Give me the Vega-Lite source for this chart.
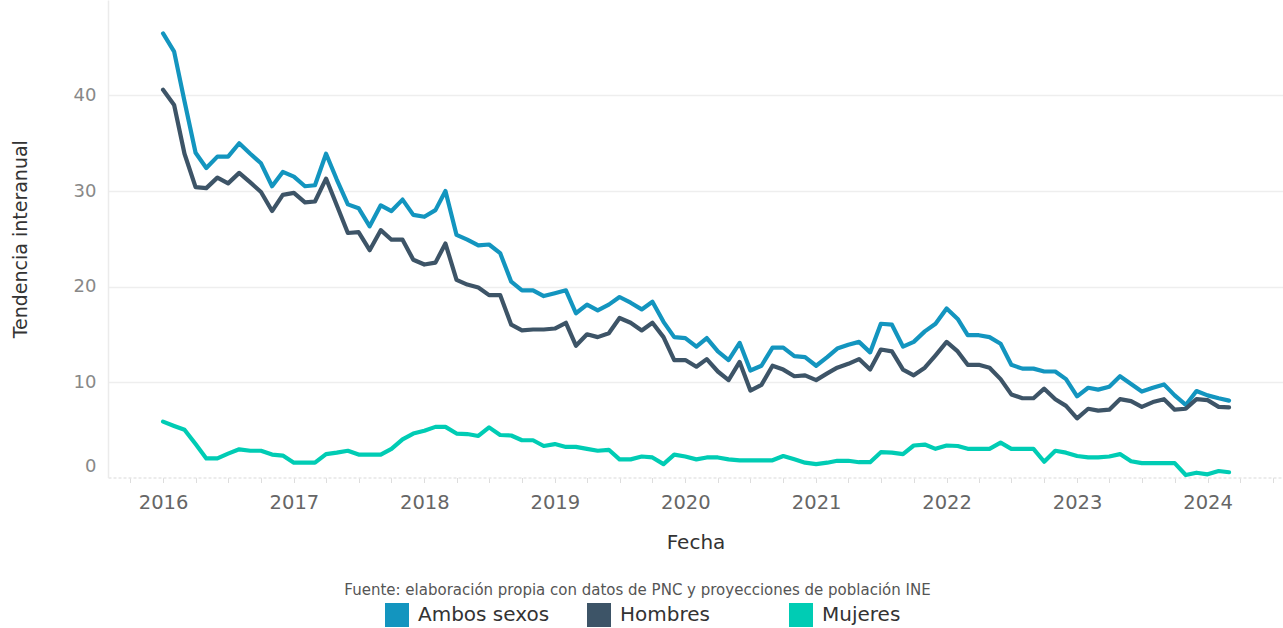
{
  "$schema": "https://vega.github.io/schema/vega-lite/v6.json",
  "width": 1175,
  "height": 477.5,
  "autosize": {"type": "none"},
  "padding": {"left": 108, "top": 0, "right": 0, "bottom": 150.5},
  "background": "white",
  "config": {"font": "DejaVu Sans", "view": {"stroke": null}},
  "title": {
    "text": "Fuente: elaboración propia con datos de PNC y proyecciones de población INE",
    "orient": "bottom",
    "anchor": "middle",
    "fontSize": 15,
    "fontWeight": "normal",
    "color": "#555555",
    "font": "DejaVu Sans",
    "offset": -44,
    "dx": -58
  },
  "data": {
    "values": [
      {"Fecha": "2016-01-01", "Ambos sexos": 46.5, "Hombres": 40.6, "Mujeres": 5.85},
      {"Fecha": "2016-02-01", "Ambos sexos": 44.6, "Hombres": 39.0, "Mujeres": 5.4},
      {"Fecha": "2016-03-01", "Ambos sexos": 39.4, "Hombres": 33.9, "Mujeres": 5.0},
      {"Fecha": "2016-04-01", "Ambos sexos": 34.0, "Hombres": 30.4, "Mujeres": 3.5},
      {"Fecha": "2016-05-01", "Ambos sexos": 32.4, "Hombres": 30.3, "Mujeres": 2.0},
      {"Fecha": "2016-06-01", "Ambos sexos": 33.6, "Hombres": 31.4, "Mujeres": 2.0},
      {"Fecha": "2016-07-01", "Ambos sexos": 33.6, "Hombres": 30.8, "Mujeres": 2.5},
      {"Fecha": "2016-08-01", "Ambos sexos": 35.0, "Hombres": 31.9, "Mujeres": 2.95},
      {"Fecha": "2016-09-01", "Ambos sexos": 33.9, "Hombres": 30.9, "Mujeres": 2.8},
      {"Fecha": "2016-10-01", "Ambos sexos": 32.9, "Hombres": 29.9, "Mujeres": 2.8},
      {"Fecha": "2016-11-01", "Ambos sexos": 30.5, "Hombres": 27.9, "Mujeres": 2.4},
      {"Fecha": "2016-12-01", "Ambos sexos": 32.0, "Hombres": 29.6, "Mujeres": 2.3},
      {"Fecha": "2017-01-01", "Ambos sexos": 31.5, "Hombres": 29.8, "Mujeres": 1.55},
      {"Fecha": "2017-02-01", "Ambos sexos": 30.5, "Hombres": 28.8, "Mujeres": 1.55},
      {"Fecha": "2017-03-01", "Ambos sexos": 30.6, "Hombres": 28.9, "Mujeres": 1.55},
      {"Fecha": "2017-04-01", "Ambos sexos": 33.9, "Hombres": 31.3, "Mujeres": 2.45},
      {"Fecha": "2017-05-01", "Ambos sexos": 31.2, "Hombres": 28.5, "Mujeres": 2.6},
      {"Fecha": "2017-06-01", "Ambos sexos": 28.6, "Hombres": 25.6, "Mujeres": 2.8},
      {"Fecha": "2017-07-01", "Ambos sexos": 28.2, "Hombres": 25.7, "Mujeres": 2.4},
      {"Fecha": "2017-08-01", "Ambos sexos": 26.3, "Hombres": 23.8, "Mujeres": 2.4},
      {"Fecha": "2017-09-01", "Ambos sexos": 28.5, "Hombres": 25.9, "Mujeres": 2.4},
      {"Fecha": "2017-10-01", "Ambos sexos": 27.9, "Hombres": 24.9, "Mujeres": 3.0},
      {"Fecha": "2017-11-01", "Ambos sexos": 29.1, "Hombres": 24.9, "Mujeres": 4.0},
      {"Fecha": "2017-12-01", "Ambos sexos": 27.5, "Hombres": 22.8, "Mujeres": 4.6},
      {"Fecha": "2018-01-01", "Ambos sexos": 27.3, "Hombres": 22.3, "Mujeres": 4.9},
      {"Fecha": "2018-02-01", "Ambos sexos": 28.0, "Hombres": 22.5, "Mujeres": 5.3},
      {"Fecha": "2018-03-01", "Ambos sexos": 30.0, "Hombres": 24.5, "Mujeres": 5.3},
      {"Fecha": "2018-04-01", "Ambos sexos": 25.4, "Hombres": 20.7, "Mujeres": 4.6},
      {"Fecha": "2018-05-01", "Ambos sexos": 24.9, "Hombres": 20.2, "Mujeres": 4.55},
      {"Fecha": "2018-06-01", "Ambos sexos": 24.3, "Hombres": 19.9, "Mujeres": 4.35},
      {"Fecha": "2018-07-01", "Ambos sexos": 24.4, "Hombres": 19.1, "Mujeres": 5.25},
      {"Fecha": "2018-08-01", "Ambos sexos": 23.5, "Hombres": 19.1, "Mujeres": 4.45},
      {"Fecha": "2018-09-01", "Ambos sexos": 20.5, "Hombres": 16.0, "Mujeres": 4.4},
      {"Fecha": "2018-10-01", "Ambos sexos": 19.6, "Hombres": 15.4, "Mujeres": 3.9},
      {"Fecha": "2018-11-01", "Ambos sexos": 19.6, "Hombres": 15.5, "Mujeres": 3.9},
      {"Fecha": "2018-12-01", "Ambos sexos": 19.0, "Hombres": 15.5, "Mujeres": 3.3},
      {"Fecha": "2019-01-01", "Ambos sexos": 19.3, "Hombres": 15.6, "Mujeres": 3.5},
      {"Fecha": "2019-02-01", "Ambos sexos": 19.6, "Hombres": 16.2, "Mujeres": 3.2},
      {"Fecha": "2019-03-01", "Ambos sexos": 17.2, "Hombres": 13.8, "Mujeres": 3.2},
      {"Fecha": "2019-04-01", "Ambos sexos": 18.1, "Hombres": 15.0, "Mujeres": 3.0},
      {"Fecha": "2019-05-01", "Ambos sexos": 17.5, "Hombres": 14.7, "Mujeres": 2.8},
      {"Fecha": "2019-06-01", "Ambos sexos": 18.1, "Hombres": 15.1, "Mujeres": 2.9},
      {"Fecha": "2019-07-01", "Ambos sexos": 18.9, "Hombres": 16.7, "Mujeres": 1.9},
      {"Fecha": "2019-08-01", "Ambos sexos": 18.3, "Hombres": 16.2, "Mujeres": 1.9},
      {"Fecha": "2019-09-01", "Ambos sexos": 17.6, "Hombres": 15.4, "Mujeres": 2.2},
      {"Fecha": "2019-10-01", "Ambos sexos": 18.4, "Hombres": 16.2, "Mujeres": 2.1},
      {"Fecha": "2019-11-01", "Ambos sexos": 16.3, "Hombres": 14.7, "Mujeres": 1.4},
      {"Fecha": "2019-12-01", "Ambos sexos": 14.7, "Hombres": 12.3, "Mujeres": 2.4},
      {"Fecha": "2020-01-01", "Ambos sexos": 14.6, "Hombres": 12.3, "Mujeres": 2.2},
      {"Fecha": "2020-02-01", "Ambos sexos": 13.7, "Hombres": 11.6, "Mujeres": 1.9},
      {"Fecha": "2020-03-01", "Ambos sexos": 14.6, "Hombres": 12.4, "Mujeres": 2.1},
      {"Fecha": "2020-04-01", "Ambos sexos": 13.2, "Hombres": 11.1, "Mujeres": 2.1},
      {"Fecha": "2020-05-01", "Ambos sexos": 12.3, "Hombres": 10.2, "Mujeres": 1.9},
      {"Fecha": "2020-06-01", "Ambos sexos": 14.1, "Hombres": 12.1, "Mujeres": 1.8},
      {"Fecha": "2020-07-01", "Ambos sexos": 11.2, "Hombres": 9.1, "Mujeres": 1.8},
      {"Fecha": "2020-08-01", "Ambos sexos": 11.7, "Hombres": 9.7, "Mujeres": 1.8},
      {"Fecha": "2020-09-01", "Ambos sexos": 13.6, "Hombres": 11.7, "Mujeres": 1.8},
      {"Fecha": "2020-10-01", "Ambos sexos": 13.6, "Hombres": 11.3, "Mujeres": 2.25},
      {"Fecha": "2020-11-01", "Ambos sexos": 12.7, "Hombres": 10.6, "Mujeres": 1.9},
      {"Fecha": "2020-12-01", "Ambos sexos": 12.6, "Hombres": 10.7, "Mujeres": 1.55},
      {"Fecha": "2021-01-01", "Ambos sexos": 11.7, "Hombres": 10.2, "Mujeres": 1.4},
      {"Fecha": "2021-02-01", "Ambos sexos": 12.6, "Hombres": 10.9, "Mujeres": 1.55},
      {"Fecha": "2021-03-01", "Ambos sexos": 13.5, "Hombres": 11.5, "Mujeres": 1.75},
      {"Fecha": "2021-04-01", "Ambos sexos": 13.9, "Hombres": 11.9, "Mujeres": 1.75},
      {"Fecha": "2021-05-01", "Ambos sexos": 14.2, "Hombres": 12.4, "Mujeres": 1.6},
      {"Fecha": "2021-06-01", "Ambos sexos": 13.1, "Hombres": 11.3, "Mujeres": 1.6},
      {"Fecha": "2021-07-01", "Ambos sexos": 16.1, "Hombres": 13.4, "Mujeres": 2.65},
      {"Fecha": "2021-08-01", "Ambos sexos": 16.0, "Hombres": 13.2, "Mujeres": 2.6},
      {"Fecha": "2021-09-01", "Ambos sexos": 13.7, "Hombres": 11.3, "Mujeres": 2.45},
      {"Fecha": "2021-10-01", "Ambos sexos": 14.2, "Hombres": 10.7, "Mujeres": 3.35},
      {"Fecha": "2021-11-01", "Ambos sexos": 15.3, "Hombres": 11.5, "Mujeres": 3.45},
      {"Fecha": "2021-12-01", "Ambos sexos": 16.1, "Hombres": 12.8, "Mujeres": 3.0},
      {"Fecha": "2022-01-01", "Ambos sexos": 17.7, "Hombres": 14.2, "Mujeres": 3.35},
      {"Fecha": "2022-02-01", "Ambos sexos": 16.6, "Hombres": 13.2, "Mujeres": 3.3},
      {"Fecha": "2022-03-01", "Ambos sexos": 14.9, "Hombres": 11.8, "Mujeres": 3.0},
      {"Fecha": "2022-04-01", "Ambos sexos": 14.9, "Hombres": 11.8, "Mujeres": 3.0},
      {"Fecha": "2022-05-01", "Ambos sexos": 14.7, "Hombres": 11.5, "Mujeres": 3.0},
      {"Fecha": "2022-06-01", "Ambos sexos": 14.0, "Hombres": 10.3, "Mujeres": 3.65},
      {"Fecha": "2022-07-01", "Ambos sexos": 11.8, "Hombres": 8.7, "Mujeres": 3.0},
      {"Fecha": "2022-08-01", "Ambos sexos": 11.4, "Hombres": 8.3, "Mujeres": 3.0},
      {"Fecha": "2022-09-01", "Ambos sexos": 11.4, "Hombres": 8.3, "Mujeres": 3.0},
      {"Fecha": "2022-10-01", "Ambos sexos": 11.1, "Hombres": 9.3, "Mujeres": 1.65},
      {"Fecha": "2022-11-01", "Ambos sexos": 11.1, "Hombres": 8.2, "Mujeres": 2.8},
      {"Fecha": "2022-12-01", "Ambos sexos": 10.3, "Hombres": 7.5, "Mujeres": 2.6},
      {"Fecha": "2023-01-01", "Ambos sexos": 8.5, "Hombres": 6.2, "Mujeres": 2.25},
      {"Fecha": "2023-02-01", "Ambos sexos": 9.4, "Hombres": 7.2, "Mujeres": 2.1},
      {"Fecha": "2023-03-01", "Ambos sexos": 9.2, "Hombres": 7.0, "Mujeres": 2.1},
      {"Fecha": "2023-04-01", "Ambos sexos": 9.5, "Hombres": 7.1, "Mujeres": 2.2},
      {"Fecha": "2023-05-01", "Ambos sexos": 10.6, "Hombres": 8.2, "Mujeres": 2.45},
      {"Fecha": "2023-06-01", "Ambos sexos": 9.8, "Hombres": 8.0, "Mujeres": 1.7},
      {"Fecha": "2023-07-01", "Ambos sexos": 9.0, "Hombres": 7.4, "Mujeres": 1.5},
      {"Fecha": "2023-08-01", "Ambos sexos": 9.4, "Hombres": 7.9, "Mujeres": 1.5},
      {"Fecha": "2023-09-01", "Ambos sexos": 9.75, "Hombres": 8.2, "Mujeres": 1.5},
      {"Fecha": "2023-10-01", "Ambos sexos": 8.6, "Hombres": 7.1, "Mujeres": 1.5},
      {"Fecha": "2023-11-01", "Ambos sexos": 7.6, "Hombres": 7.2, "Mujeres": 0.26},
      {"Fecha": "2023-12-01", "Ambos sexos": 9.05, "Hombres": 8.2, "Mujeres": 0.5},
      {"Fecha": "2024-01-01", "Ambos sexos": 8.6, "Hombres": 8.1, "Mujeres": 0.33},
      {"Fecha": "2024-02-01", "Ambos sexos": 8.3, "Hombres": 7.4, "Mujeres": 0.68},
      {"Fecha": "2024-03-01", "Ambos sexos": 8.05, "Hombres": 7.35, "Mujeres": 0.55}
    ]
  },
  "transform": [{"fold": ["Ambos sexos", "Hombres", "Mujeres"], "as": ["serie", "valor"]}],
  "mark": {"type": "line", "strokeWidth": 4.2, "strokeJoin": "round", "strokeCap": "round"},
  "encoding": {
    "x": {
      "field": "Fecha",
      "type": "temporal",
      "scale": {
        "type": "utc",
        "domain": [
          {"year": 2015, "month": 7, "date": 31, "utc": true},
          {"year": 2024, "month": 7, "date": 30, "utc": true}
        ]
      },
      "axis": {
        "values": [
          {"year": 2015, "month": 10, "date": 1, "utc": true},
          {"year": 2016, "month": 1, "date": 1, "utc": true},
          {"year": 2016, "month": 4, "date": 1, "utc": true},
          {"year": 2016, "month": 7, "date": 1, "utc": true},
          {"year": 2016, "month": 10, "date": 1, "utc": true},
          {"year": 2017, "month": 1, "date": 1, "utc": true},
          {"year": 2017, "month": 4, "date": 1, "utc": true},
          {"year": 2017, "month": 7, "date": 1, "utc": true},
          {"year": 2017, "month": 10, "date": 1, "utc": true},
          {"year": 2018, "month": 1, "date": 1, "utc": true},
          {"year": 2018, "month": 4, "date": 1, "utc": true},
          {"year": 2018, "month": 7, "date": 1, "utc": true},
          {"year": 2018, "month": 10, "date": 1, "utc": true},
          {"year": 2019, "month": 1, "date": 1, "utc": true},
          {"year": 2019, "month": 4, "date": 1, "utc": true},
          {"year": 2019, "month": 7, "date": 1, "utc": true},
          {"year": 2019, "month": 10, "date": 1, "utc": true},
          {"year": 2020, "month": 1, "date": 1, "utc": true},
          {"year": 2020, "month": 4, "date": 1, "utc": true},
          {"year": 2020, "month": 7, "date": 1, "utc": true},
          {"year": 2020, "month": 10, "date": 1, "utc": true},
          {"year": 2021, "month": 1, "date": 1, "utc": true},
          {"year": 2021, "month": 4, "date": 1, "utc": true},
          {"year": 2021, "month": 7, "date": 1, "utc": true},
          {"year": 2021, "month": 10, "date": 1, "utc": true},
          {"year": 2022, "month": 1, "date": 1, "utc": true},
          {"year": 2022, "month": 4, "date": 1, "utc": true},
          {"year": 2022, "month": 7, "date": 1, "utc": true},
          {"year": 2022, "month": 10, "date": 1, "utc": true},
          {"year": 2023, "month": 1, "date": 1, "utc": true},
          {"year": 2023, "month": 4, "date": 1, "utc": true},
          {"year": 2023, "month": 7, "date": 1, "utc": true},
          {"year": 2023, "month": 10, "date": 1, "utc": true},
          {"year": 2024, "month": 1, "date": 1, "utc": true},
          {"year": 2024, "month": 4, "date": 1, "utc": true},
          {"year": 2024, "month": 7, "date": 1, "utc": true}
        ],
        "labelExpr": "utcmonth(datum.value) == 0 ? utcFormat(datum.value, '%Y') : ''",
        "labelOverlap": false,
        "labelFlush": false,
        "title": "Fecha",
        "titleFontSize": 20,
        "titleColor": "#333333",
        "titleFontWeight": "normal",
        "titlePadding": 20,
        "labelFontSize": 19.5,
        "labelColor": "#666666",
        "labelPadding": 11,
        "tickColor": "#dddddd",
        "tickSize": 5,
        "tickWidth": 1,
        "domainColor": "#e6e6e6",
        "domainDash": [3, 2],
        "domainWidth": 1.5,
        "grid": false
      }
    },
    "y": {
      "field": "valor",
      "type": "quantitative",
      "scale": {"domain": [0, 50], "nice": false, "zero": false},
      "axis": {
        "values": [0, 10, 20, 30, 40],
        "title": "Tendencia interanual",
        "titleFontSize": 19,
        "titleColor": "#333333",
        "titleFontWeight": "normal",
        "titlePadding": 43,
        "labelFontSize": 18,
        "labelColor": "#888888",
        "labelPadding": 12,
        "ticks": false,
        "domain": true,
        "domainColor": "#ebebeb",
        "domainWidth": 1.5,
        "grid": true,
        "gridColor": {"condition": {"test": "datum.value == 0", "value": "transparent"}, "value": "#eeeeee"},
        "gridWidth": 1.5,
        "labelOffset": {"condition": {"test": "datum.value == 0", "value": -11}, "value": 0}
      }
    },
    "color": {
      "field": "serie",
      "type": "nominal",
      "scale": {
        "domain": ["Ambos sexos", "Hombres", "Mujeres"],
        "range": ["#1395bf", "#3d5467", "#00ccb4"]
      },
      "legend": {
        "orient": "none",
        "legendX": 277,
        "legendY": 603,
        "direction": "horizontal",
        "columns": 3,
        "gridAlign": "all",
        "columnPadding": 37,
        "symbolType": "square",
        "symbolSize": 576,
        "symbolStrokeWidth": 0,
        "labelFontSize": 20,
        "labelColor": "#333333",
        "labelOffset": 9,
        "labelFont": "DejaVu Sans",
        "title": null,
        "padding": 0,
        "encode": {
          "symbols": {
            "update": {
              "fill": {"scale": "color", "field": "value"},
              "opacity": {"value": 1}
            }
          }
        }
      }
    }
  }
}
